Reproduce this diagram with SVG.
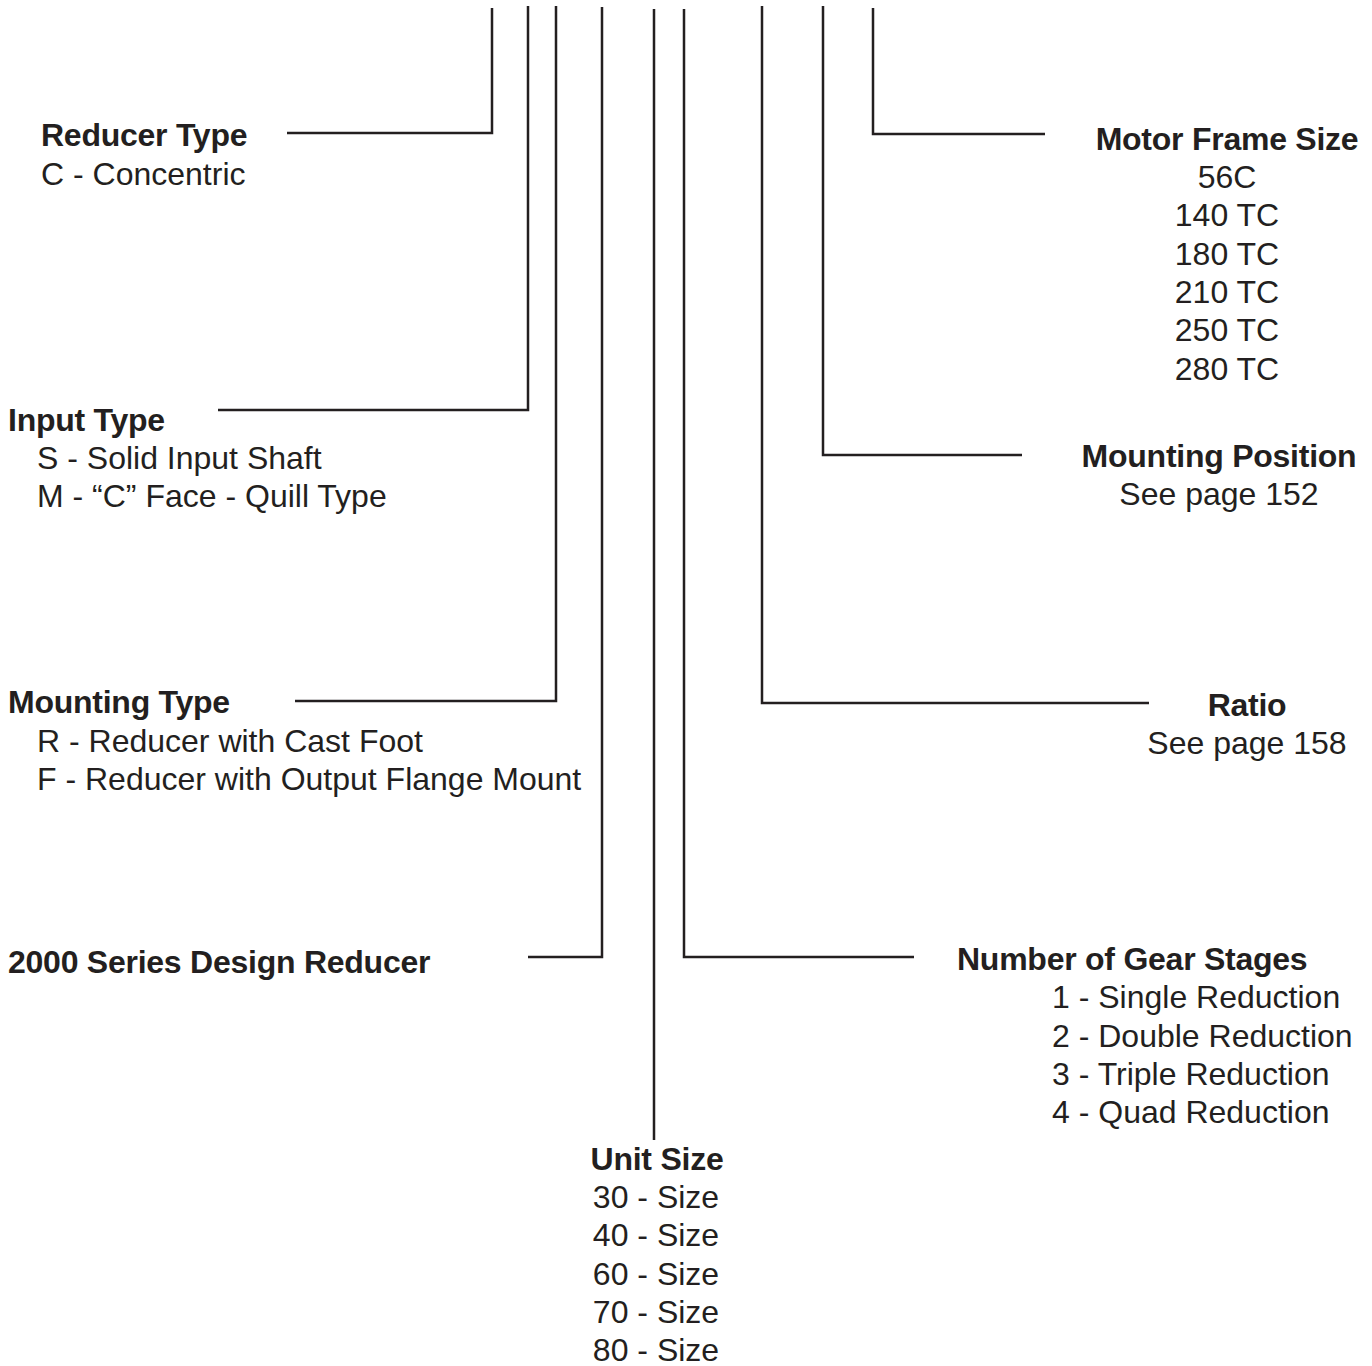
<svg xmlns="http://www.w3.org/2000/svg" width="1372" height="1366" viewBox="0 0 1372 1366">
<style>
text{font-family:"Liberation Sans",Arial,Helvetica,sans-serif;font-size:32px;fill:#231f20}
.h{font-weight:bold;letter-spacing:-0.25px}
.m{text-anchor:middle}
.c{fill:none;stroke:#231f20;stroke-width:2.5;stroke-linecap:butt;stroke-linejoin:miter}
</style>
<rect width="1372" height="1366" fill="#fff"/>
<g id="connectors">
<path class="c" d="M492 8V133H287"/>
<path class="c" d="M528 6V410H218"/>
<path class="c" d="M556 6V701H295"/>
<path class="c" d="M602 7V957H528"/>
<path class="c" d="M654 9V1140"/>
<path class="c" d="M684 9V957H914"/>
<path class="c" d="M762 6V703H1149"/>
<path class="c" d="M823 6V455H1022"/>
<path class="c" d="M873 8V134H1045"/>
</g>
<g id="reducer-type">
<text class="h" x="41" y="146">Reducer Type</text>
<text x="41" y="185">C - Concentric</text>
</g>
<g id="input-type">
<text class="h" x="8" y="431">Input Type</text>
<text x="37" y="469">S - Solid Input Shaft</text>
<text x="37" y="507">M - “C” Face - Quill Type</text>
</g>
<g id="mounting-type">
<text class="h" x="8" y="713">Mounting Type</text>
<text x="37" y="752">R - Reducer with Cast Foot</text>
<text x="37" y="790">F - Reducer with Output Flange Mount</text>
</g>
<g id="series">
<text class="h" x="8" y="973">2000 Series Design Reducer</text>
</g>
<g id="unit-size">
<text class="h m" x="657" y="1170">Unit Size</text>
<text class="m" x="656" y="1208">30 - Size</text>
<text class="m" x="656" y="1246">40 - Size</text>
<text class="m" x="656" y="1285">60 - Size</text>
<text class="m" x="656" y="1323">70 - Size</text>
<text class="m" x="656" y="1361">80 - Size</text>
</g>
<g id="gear-stages">
<text class="h" x="957" y="970">Number of Gear Stages</text>
<text x="1052" y="1008">1 - Single Reduction</text>
<text x="1052" y="1047">2 - Double Reduction</text>
<text x="1052" y="1085">3 - Triple Reduction</text>
<text x="1052" y="1123">4 - Quad Reduction</text>
</g>
<g id="ratio">
<text class="h m" x="1247" y="716">Ratio</text>
<text class="m" x="1247" y="754">See page 158</text>
</g>
<g id="mounting-position">
<text class="h m" x="1219" y="467">Mounting Position</text>
<text class="m" x="1219" y="505">See page 152</text>
</g>
<g id="motor-frame-size">
<text class="h m" x="1227" y="150">Motor Frame Size</text>
<text class="m" x="1227" y="188">56C</text>
<text class="m" x="1227" y="226">140 TC</text>
<text class="m" x="1227" y="265">180 TC</text>
<text class="m" x="1227" y="303">210 TC</text>
<text class="m" x="1227" y="341">250 TC</text>
<text class="m" x="1227" y="380">280 TC</text>
</g>
</svg>
